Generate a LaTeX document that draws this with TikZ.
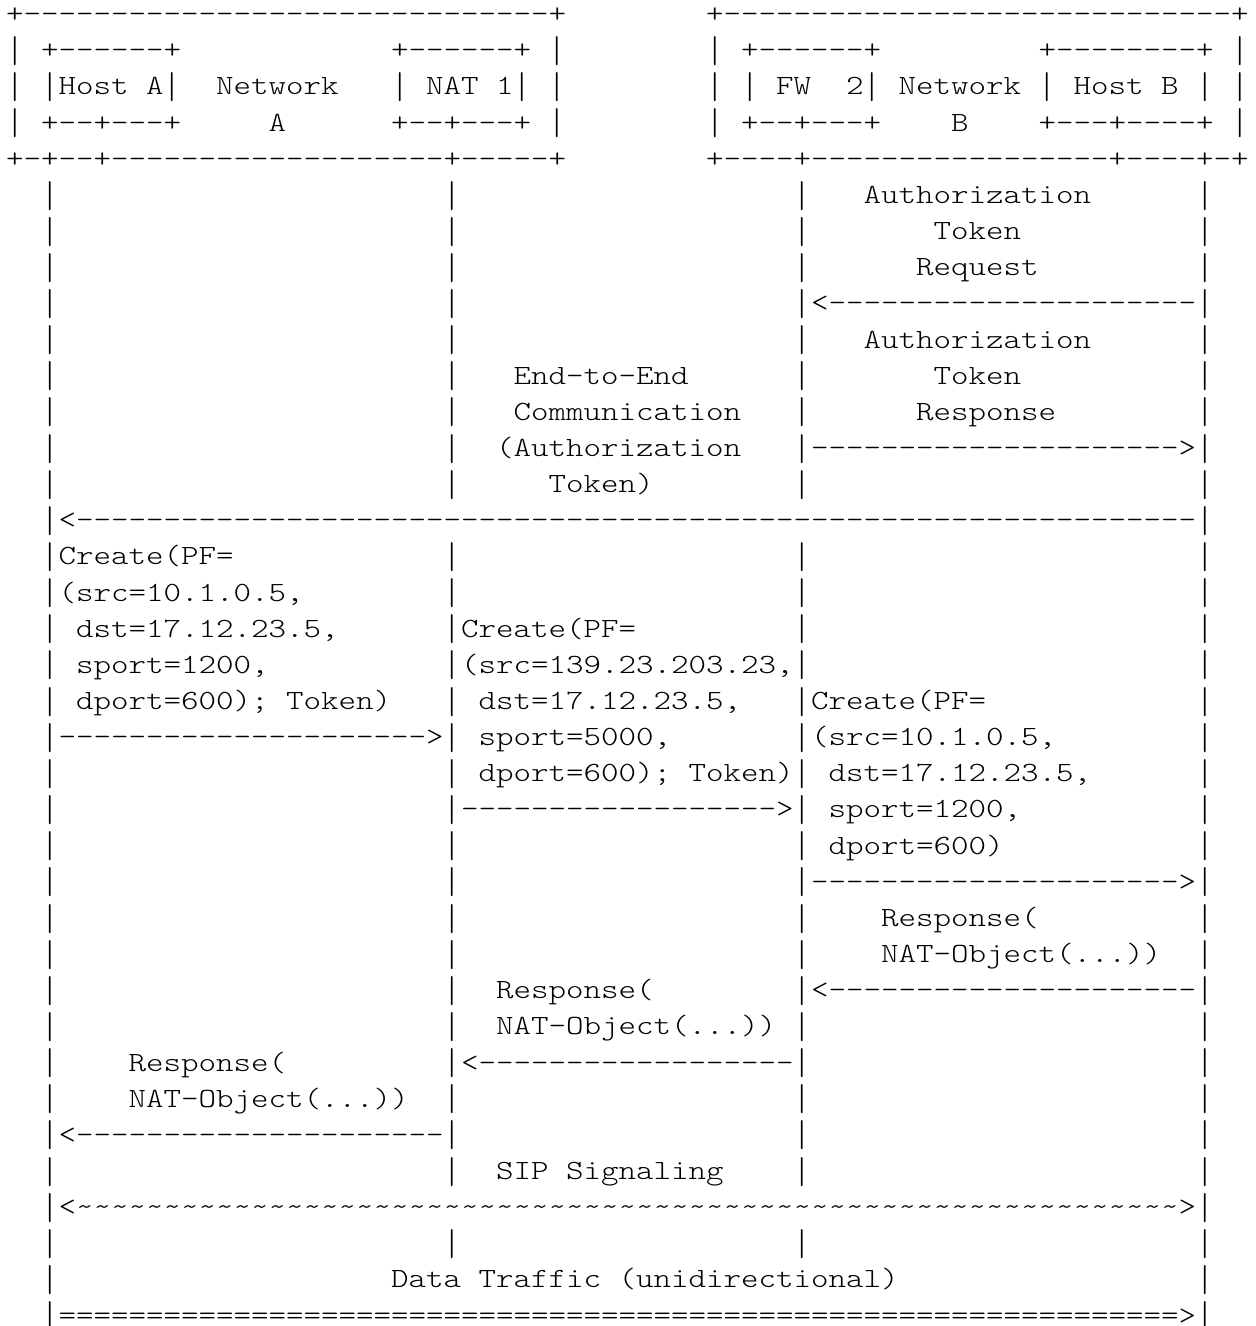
\documentclass[tikz,border=0pt]{standalone}
\usepackage{graphicx}
\newcommand\xsp[1]{\kern\dimexpr#1\fontcharwd\font`\x\relax}
\newcommand\vb{\raisebox{-1.8pt}{\scalebox{1}[1.34]{|}}}
\ExplSyntaxOn
\NewDocumentCommand\xda{m}{\prg_replicate:nn{#1}{-\kern0pt}}
\NewDocumentCommand\xeq{m}{\prg_replicate:nn{#1}{=\kern0pt}}
\NewDocumentCommand\xti{m}{\prg_replicate:nn{#1}{\char"7E\relax}}
\NewDocumentCommand\vbtext{m}{\tl_set:Nn \l_tmpa_tl {#1}\tl_replace_all:Nnn \l_tmpa_tl {|} {\vb}\tl_use:N \l_tmpa_tl}
\ExplSyntaxOff
\newcommand\lanes{\xsp{2}\vb\xsp{22}\vb\xsp{19}\vb}
\tikzset{txt/.style={inner sep=0pt, outer sep=0pt, anchor=base west, text=black,
  font={\fontfamily{lmtt}\fontseries{l}\fontshape{n}\fontsize{13.9pt}{18pt}\selectfont\frenchspacing}}}
\newcommand\arow[2]{\node[txt] (r#1) at (3.125pt, {651.65pt-18.075pt*#1}) {\scalebox{1.199}[1]{\vbtext{#2}}};}
\begin{document}
\begin{tikzpicture}
\useasboundingbox (0,0) rectangle (627.5pt,663pt);
\fill[white] (0,0) rectangle (627.5pt,663pt);
\arow{0}{+\xda{30}+\xsp{8}+\xda{29}+}
\arow{1}{|\xsp{1}+\xda{6}+\xsp{12}+\xda{6}+\xsp{1}|\xsp{8}|\xsp{1}+\xda{6}+\xsp{9}+\xda{8}+\xsp{1}|}
\arow{2}{|\xsp{1}|Host A|\xsp{2}Network\xsp{3}|\xsp{1}NAT 1|\xsp{1}|\xsp{8}|\xsp{1}|\xsp{1}FW\xsp{2}2|\xsp{1}Network\xsp{1}|\xsp{1}Host B\xsp{1}|\xsp{1}|}
\arow{3}{|\xsp{1}+\xda{2}+\xda{3}+\xsp{5}A\xsp{6}+\xda{2}+\xda{3}+\xsp{1}|\xsp{8}|\xsp{1}+\xda{2}+\xda{3}+\xsp{4}B\xsp{4}+\xda{3}+\xda{4}+\xsp{1}|}
\arow{4}{+\xda{1}+\xda{2}+\xda{19}+\xda{5}+\xsp{8}+\xda{4}+\xda{17}+\xda{4}+\xda{1}+}
\arow{5}{\lanes\xsp{3}Authorization\xsp{6}|}
\arow{6}{\lanes\xsp{7}Token\xsp{10}|}
\arow{7}{\lanes\xsp{6}Request\xsp{9}|}
\arow{8}{\lanes<\xda{21}|}
\arow{9}{\lanes\xsp{3}Authorization\xsp{6}|}
\arow{10}{\xsp{2}|\xsp{22}|\xsp{3}End-to-End\xsp{6}|\xsp{7}Token\xsp{10}|}
\arow{11}{\xsp{2}|\xsp{22}|\xsp{3}Communication\xsp{3}|\xsp{6}Response\xsp{8}|}
\arow{12}{\xsp{2}|\xsp{22}|\xsp{2}(Authorization\xsp{3}|\xda{21}>|}
\arow{13}{\xsp{2}|\xsp{22}|\xsp{5}Token)\xsp{8}|\xsp{22}|}
\arow{14}{\xsp{2}|<\xda{64}|}
\arow{15}{\xsp{2}|Create(PF=\xsp{12}|\xsp{19}|\xsp{22}|}
\arow{16}{\xsp{2}|(src=10.1.0.5,\xsp{8}|\xsp{19}|\xsp{22}|}
\arow{17}{\xsp{2}|\xsp{1}dst=17.12.23.5,\xsp{6}|Create(PF=\xsp{9}|\xsp{22}|}
\arow{18}{\xsp{2}|\xsp{1}sport=1200,\xsp{10}|(src=139.23.203.23,|\xsp{22}|}
\arow{19}{\xsp{2}|\xsp{1}dport=600); Token)\xsp{3}|\xsp{1}dst=17.12.23.5,\xsp{3}|Create(PF=\xsp{12}|}
\arow{20}{\xsp{2}|\xda{21}>|\xsp{1}sport=5000,\xsp{7}|(src=10.1.0.5,\xsp{8}|}
\arow{21}{\xsp{2}|\xsp{22}|\xsp{1}dport=600); Token)|\xsp{1}dst=17.12.23.5,\xsp{6}|}
\arow{22}{\xsp{2}|\xsp{22}|\xda{18}>|\xsp{1}sport=1200,\xsp{10}|}
\arow{23}{\lanes\xsp{1}dport=600)\xsp{11}|}
\arow{24}{\lanes\xda{21}>|}
\arow{25}{\lanes\xsp{4}Response(\xsp{9}|}
\arow{26}{\lanes\xsp{4}NAT-Object(...))\xsp{2}|}
\arow{27}{\xsp{2}|\xsp{22}|\xsp{2}Response(\xsp{8}|<\xda{21}|}
\arow{28}{\xsp{2}|\xsp{22}|\xsp{2}NAT-Object(...))\xsp{1}|\xsp{22}|}
\arow{29}{\xsp{2}|\xsp{4}Response(\xsp{9}|<\xda{18}|\xsp{22}|}
\arow{30}{\xsp{2}|\xsp{4}NAT-Object(...))\xsp{2}|\xsp{19}|\xsp{22}|}
\arow{31}{\xsp{2}|<\xda{21}|\xsp{19}|\xsp{22}|}
\arow{32}{\xsp{2}|\xsp{22}|\xsp{2}SIP Signaling\xsp{4}|\xsp{22}|}
\arow{33}{\xsp{2}|<\xti{63}>|}
\arow{34}{\lanes\xsp{22}|}
\arow{35}{\xsp{2}|\xsp{19}Data Traffic (unidirectional)\xsp{17}|}
\arow{36}{\xsp{2}|\xeq{64}>|}
\end{tikzpicture}
\end{document}
